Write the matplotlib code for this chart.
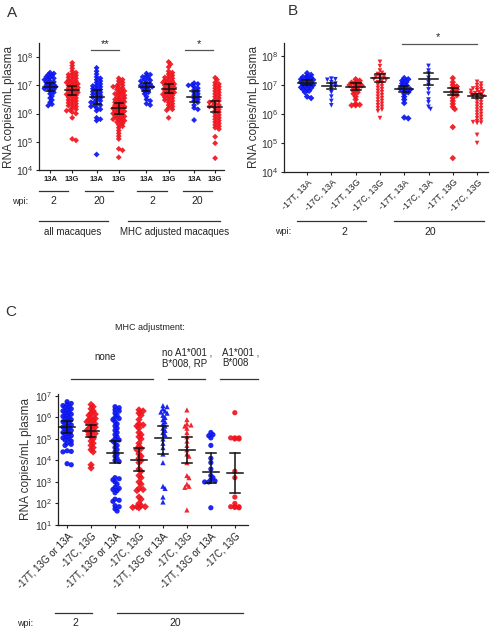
import numpy as np
import matplotlib
matplotlib.use("Agg")
import matplotlib.pyplot as plt
from matplotlib.lines import Line2D

plt.rcParams['font.family'] = ['Liberation Sans', 'DejaVu Sans']
plt.rcParams['mathtext.fontset'] = 'custom'
plt.rcParams['mathtext.rm'] = 'Liberation Sans'
plt.rcParams['mathtext.it'] = 'Liberation Sans'
plt.rcParams['mathtext.bf'] = 'Liberation Sans:bold'

W, H = 493, 633
BLUE = '#0a14f0'
RED = '#f0141e'

# ---------------- data (log10 RNA copies/mL plasma) ----------------
a_labels = ['13A', '13G', '13A', '13G', '13A', '13G', '13A', '13G']
a_values = [
    [7.45,7.42,7.38,7.35,7.3,7.28,7.25,7.22,7.2,7.15,7.12,7.1,7.05,7.02,7.0,6.98,6.95,6.92,6.9,6.88,6.85,6.8,6.75,6.7,6.62,6.55,6.48,6.4,6.33,6.28],
    [7.8,7.7,7.6,7.5,7.45,7.4,7.38,7.35,7.3,7.28,7.25,7.2,7.18,7.15,7.12,7.1,7.08,7.05,7.02,7.0,6.98,6.95,6.92,6.9,6.88,6.85,6.82,6.8,6.78,6.75,6.72,6.7,6.68,6.65,6.6,6.58,6.55,6.5,6.48,6.45,6.4,6.38,6.35,6.3,6.28,6.25,6.2,6.15,6.12,6.1,6.05,6.0,5.85,5.1,5.05],
    [7.62,7.5,7.4,7.3,7.25,7.2,7.15,7.1,7.05,7.0,6.98,6.95,6.9,6.88,6.85,6.8,6.78,6.75,6.7,6.68,6.65,6.6,6.58,6.55,6.5,6.45,6.42,6.4,6.35,6.3,6.28,6.25,6.2,6.15,6.1,5.85,5.8,5.75,4.55],
    [7.25,7.2,7.15,7.1,7.05,7.0,6.98,6.95,6.92,6.9,6.85,6.82,6.8,6.75,6.72,6.7,6.68,6.65,6.6,6.58,6.55,6.52,6.5,6.48,6.45,6.42,6.4,6.38,6.35,6.32,6.3,6.28,6.25,6.22,6.2,6.18,6.15,6.12,6.1,6.08,6.05,6.02,6.0,5.98,5.95,5.92,5.9,5.88,5.85,5.82,5.8,5.78,5.75,5.72,5.7,5.65,5.6,5.55,5.5,5.4,5.3,5.2,5.1,4.75,4.7,4.45],
    [7.42,7.38,7.33,7.3,7.25,7.2,7.18,7.15,7.1,7.05,7.02,7.0,6.98,6.95,6.92,6.9,6.85,6.8,6.75,6.7,6.6,6.5,6.45,6.35,6.3],
    [7.83,7.75,7.65,7.5,7.45,7.4,7.35,7.3,7.28,7.25,7.2,7.18,7.15,7.12,7.1,7.08,7.05,7.02,7.0,6.98,6.95,6.92,6.9,6.88,6.85,6.82,6.8,6.78,6.75,6.72,6.7,6.68,6.65,6.6,6.58,6.55,6.5,6.48,6.45,6.4,6.35,6.3,6.25,6.2,6.15,6.12,5.85],
    [7.08,7.05,7.02,7.0,6.95,6.9,6.85,6.8,6.75,6.7,6.65,6.6,6.55,6.5,6.45,6.4,6.3,6.2,6.15,5.77],
    [7.27,7.2,7.1,7.05,7.0,6.95,6.9,6.85,6.8,6.75,6.7,6.65,6.6,6.55,6.5,6.45,6.42,6.4,6.35,6.3,6.28,6.25,6.2,6.15,6.1,6.05,6.0,5.95,5.9,5.85,5.8,5.75,5.7,5.65,5.6,5.55,5.5,5.45,5.18,4.95,4.42],
]
a_means = [6.94, 6.82, 6.6, 6.18, 6.95, 6.88, 6.6, 6.25]
a_sem = [0.15, 0.15, 0.25, 0.2, 0.15, 0.15, 0.2, 0.18]
a_colors = [BLUE, RED] * 4

b_labels = ['-17T, 13A', '-17C, 13A', '-17T, 13G', '-17C, 13G'] * 2
b_values = [
    [7.41,7.35,7.3,7.28,7.25,7.22,7.2,7.18,7.15,7.12,7.1,7.08,7.05,7.02,7.0,6.98,6.95,6.92,6.9,6.88,6.85,6.8,6.75,6.6,6.55],
    [7.22,7.2,7.18,7.1,7.05,7.0,6.95,6.85,6.75,6.6,6.45,6.3],
    [7.2,7.15,7.1,7.08,7.05,7.02,7.0,6.98,6.95,6.9,6.85,6.8,6.75,6.7,6.6,6.5,6.35,6.32,6.3,6.3],
    [7.8,7.65,7.5,7.42,7.38,7.35,7.3,7.28,7.25,7.22,7.2,7.18,7.15,7.1,7.05,7.0,6.95,6.9,6.85,6.8,6.75,6.7,6.65,6.6,6.55,6.5,6.45,6.4,6.35,6.3,6.25,6.2,6.15,6.1,5.86],
    [7.24,7.2,7.15,7.1,7.05,7.0,6.95,6.9,6.88,6.85,6.8,6.75,6.7,6.6,6.5,6.38,5.88,5.85],
    [7.66,7.5,7.4,7.25,7.1,7.0,6.85,6.7,6.5,6.4,6.25,6.17],
    [7.24,7.1,7.0,6.95,6.9,6.85,6.8,6.75,6.7,6.65,6.55,6.45,6.35,6.25,6.17,5.55,4.48],
    [7.11,7.05,7.0,6.95,6.9,6.88,6.85,6.82,6.8,6.78,6.75,6.72,6.7,6.68,6.65,6.62,6.6,6.55,6.5,6.45,6.4,6.35,6.3,6.25,6.2,6.15,6.1,6.05,6.0,5.95,5.9,5.85,5.8,5.75,5.72,5.7,5.69,5.28,5.0],
]
b_means = [7.08, 6.98, 6.94, 7.24, 6.86, 7.2, 6.77, 6.62]
b_sem = [0.08, 0.1, 0.12, 0.14, 0.1, 0.2, 0.12, 0.08]
b_colors = [BLUE, BLUE, RED, RED] * 2
b_markers = ['D', 'v', 'D', 'v'] * 2

c_labels = ['-17T, 13G or 13A', '-17C, 13G'] * 4
c_values = [
    [6.73,6.65,6.6,6.55,6.5,6.45,6.4,6.35,6.3,6.25,6.2,6.15,6.1,6.05,6.0,5.95,5.9,5.85,5.8,5.75,5.7,5.65,5.6,5.55,5.5,5.45,5.4,5.35,5.3,5.25,5.2,5.15,5.1,5.05,5.0,4.95,4.9,4.8,4.75,4.7,4.45,4.42,4.4,3.85,3.8],
    [6.6,6.5,6.4,6.3,6.2,6.15,6.1,6.0,5.95,5.9,5.85,5.8,5.75,5.7,5.6,5.55,5.5,5.45,5.4,5.3,5.25,5.2,5.1,5.0,4.9,4.8,4.7,4.6,4.5,4.4,3.8,3.65],
    [6.5,6.45,6.35,6.3,6.2,6.1,6.0,5.95,5.9,5.8,5.7,5.6,5.5,5.4,5.3,5.2,5.1,5.0,4.95,4.9,4.8,4.7,4.6,4.5,4.4,4.3,4.2,4.1,4.0,3.95,3.2,3.15,3.1,3.0,2.9,2.75,2.7,2.65,2.6,2.5,2.2,2.15,2.1,1.9,1.85,1.75,1.65],
    [6.35,6.3,6.2,6.1,5.9,5.7,5.65,5.6,5.5,5.3,5.2,5.1,5.0,4.8,4.65,4.55,4.5,4.3,4.2,4.1,4.0,3.9,3.6,3.5,3.3,3.2,3.0,2.9,2.7,2.65,2.6,2.3,2.2,2.0,1.9,1.85,1.85,1.82,1.8],
    [6.55,6.5,6.4,6.3,6.25,6.2,6.1,6.0,5.9,5.8,5.7,5.6,5.5,5.4,5.3,5.2,5.0,4.8,4.6,4.3,3.9,2.8,2.7,2.3,2.07],
    [6.35,5.9,5.7,5.65,5.6,5.5,5.3,5.1,4.9,4.7,4.5,4.3,4.2,3.9,3.3,3.2,2.9,2.8,2.75,1.7],
    [5.3,5.2,5.15,5.05,4.7,4.1,3.9,3.6,3.3,3.2,3.1,3.05,3.0,3.0,1.8],
    [6.22,5.05,5.05,5.0,5.0,5.05,3.5,3.2,2.3,2.0,1.85,1.85,1.8,1.82,1.85],
]
c_means = [5.57, 5.39, 4.36, 4.02, 5.05, 4.49, 3.48, 3.42]
c_low = [5.3, 5.1, 3.9, 3.5, 4.3, 3.9, 2.95, 2.5]
c_high = [5.85, 5.65, 4.9, 4.6, 5.6, 5.1, 4.35, 4.35]
c_colors = [BLUE, RED] * 4
c_markers = ['o', 'D', 'o', 'D', '^', '^', 'o', 'o']

# ---------------- helpers ----------------
fig = plt.figure(figsize=(W / 100, H / 100), dpi=100)


def fx(x):
    return x / W


def fy(y):
    return 1 - y / H


def axes_px(left, top, right, bottom):
    return fig.add_axes([fx(left), fy(bottom), (right - left) / W, (bottom - top) / H])


def hline(x0, x1, y, color='#333333', lw=0.9):
    fig.add_artist(Line2D([fx(x0), fx(x1)], [fy(y), fy(y)], color=color, lw=lw,
                          transform=fig.transFigure))


def ftext(x, y, s, **kw):
    kw.setdefault('ha', 'center')
    kw.setdefault('va', 'center')
    kw.setdefault('fontsize', 7)
    kw.setdefault('color', '#222222')
    fig.text(fx(x), fy(y), s, **kw)


def swarm(ax, xc, vals, d_px, overlap=0.6, maxhalf=6.0):
    """Beeswarm x offsets (in data units) computed from the values."""
    disp = ax.transData.transform(np.column_stack([np.full(len(vals), xc), 10.0 ** np.asarray(vals)]))
    ys = disp[:, 1]
    order = np.argsort(-ys)
    placed = []
    offs = np.zeros(len(vals))
    step = d_px * 0.45
    cands = [0.0]
    k = 1
    while k * step <= maxhalf:
        cands += [k * step, -k * step]
        k += 1
    for i in order:
        best, bestc = None, None
        for c in cands:
            n = sum(1 for (px, py) in placed if (px - c) ** 2 + (py - ys[i]) ** 2 < (d_px * overlap) ** 2)
            if n == 0:
                best = c
                break
            if bestc is None or n < bestc:
                bestc, best = n, c
        offs[i] = best
        placed.append((best, ys[i]))
    bb = ax.get_window_extent()
    x0, x1 = ax.get_xlim()
    return offs * (x1 - x0) / bb.width


def style_axis(ax, ymin, ymax, dec):
    ax.set_yscale('log')
    ax.set_ylim(10.0 ** ymin, 10.0 ** ymax)
    for s in ['top', 'right']:
        ax.spines[s].set_visible(False)
    for s in ['left', 'bottom']:
        ax.spines[s].set_linewidth(0.9)
        ax.spines[s].set_color('#222222')
    ax.set_yticks([10.0 ** d for d in dec])
    ax.set_yticklabels([r'$10^{%d}$' % d for d in dec], fontsize=7.5)
    ax.yaxis.set_minor_locator(matplotlib.ticker.NullLocator())
    ax.tick_params(axis='both', length=2.5, width=0.8, direction='out', pad=1.5, colors='#222222')
    ax.tick_params(axis='y', labelcolor='#333333')


def draw_group(ax, x, vals, color, marker, size, mean, lo, hi, mean_w, cap_w, d_px, maxhalf):
    offs = swarm(ax, x, vals, d_px, maxhalf=maxhalf)
    ax.scatter(x + offs, 10.0 ** np.asarray(vals), s=size, marker=marker, color=color,
               edgecolors='none', zorder=2, alpha=0.92)
    ax.plot([x - mean_w, x + mean_w], [10 ** mean] * 2, color='#111111', lw=1.1, zorder=3)
    ax.plot([x, x], [10 ** lo, 10 ** hi], color='#111111', lw=1.1, zorder=3)
    for v in (lo, hi):
        ax.plot([x - cap_w, x + cap_w], [10 ** v] * 2, color='#111111', lw=1.1, zorder=3)


# ---------------- Panel A ----------------
axA = axes_px(39, 43, 224, 170)
style_axis(axA, 4, 8.5, [4, 5, 6, 7, 8])
a_pos = [1, 2, 3.1, 4.1, 5.35, 6.35, 7.5, 8.45]
axA.set_xlim(0.5, 8.85)
axA.set_xticks(a_pos)
axA.set_xticklabels(a_labels, fontsize=5.5, fontweight='bold')
axA.set_ylabel('RNA copies/mL plasma', fontsize=8.5, labelpad=1, color='#333333')
for i in range(8):
    draw_group(axA, a_pos[i], a_values[i], a_colors[i], 'D', 9, a_means[i],
               a_means[i] - a_sem[i], a_means[i] + a_sem[i], 0.32, 0.18, 4.2, 6.0)

# ---------------- Panel B ----------------
axB = axes_px(284, 43, 488, 172)
style_axis(axB, 4, 8.45, [4, 5, 6, 7, 8])
axB.set_xlim(0.05, 8.45)
axB.set_xticks(range(1, 9))
axB.set_xticklabels(b_labels, fontsize=6.5, rotation=45, ha='right', rotation_mode='anchor')
axB.set_ylabel('RNA copies/mL plasma', fontsize=8.5, labelpad=1, color='#333333')
for i in range(8):
    draw_group(axB, i + 1, b_values[i], b_colors[i], b_markers[i], 11, b_means[i],
               b_means[i] - b_sem[i], b_means[i] + b_sem[i], 0.38, 0.2, 4.5, 7.5)

# ---------------- Panel C ----------------
axC = axes_px(58, 394, 248, 525)
style_axis(axC, 1, 7.09, [1, 2, 3, 4, 5, 6, 7])
axC.set_xlim(0.62, 8.55)
axC.set_xticks(range(1, 9))
axC.set_xticklabels(c_labels, fontsize=7, rotation=45, ha='right', rotation_mode='anchor')
axC.set_ylabel('RNA copies/mL plasma', fontsize=8.5, labelpad=2, color='#333333')
for i in range(8):
    draw_group(axC, i + 1, c_values[i], c_colors[i], c_markers[i], 14, c_means[i],
               c_low[i], c_high[i], 0.33, 0.22, 4.6, 7.0)

# ---------------- annotations ----------------
ftext(12, 13, 'A', fontsize=11, color='#333333')
ftext(293, 11, 'B', fontsize=11, color='#333333')
ftext(11, 312, 'C', fontsize=11, color='#333333')

# Panel A significance
hline(91, 119, 50, color='#555555')
ftext(105, 44, '**', fontsize=8)
hline(185, 213, 50, color='#555555')
ftext(199, 44, '*', fontsize=8)

# Panel A groupings
for (x0, x1, lab) in [(39, 68, '2'), (85, 113, '20'), (137, 167, '2'), (183, 212, '20')]:
    hline(x0, x1, 191)
    ftext((x0 + x1) / 2, 201, lab, fontsize=7.5)
ftext(20, 201, 'wpi:', fontsize=6.5)
hline(39, 108, 221)
hline(128, 220, 221)
ftext(73, 232, 'all macaques', fontsize=7)
ftext(175, 232, 'MHC adjusted macaques', fontsize=7)

# Panel B significance and grouping
hline(402, 477, 44, color='#555555')
ftext(438, 37, '*', fontsize=8)
hline(297, 366, 221)
hline(394, 484, 221)
ftext(283, 232, 'wpi:', fontsize=6.5)
ftext(344, 232, '2', fontsize=7.5)
ftext(430, 232, '20', fontsize=7.5)

# Panel C header
ftext(150, 328, 'MHC adjustment:', fontsize=6.5)
ftext(105, 357, 'none', fontsize=7)
ftext(162, 358, 'no A1*001 ,\nB*008, RP', fontsize=7, ha='left', linespacing=1.1)
ftext(222, 358, 'A1*001 ,\nB*008', fontsize=7, ha='left', linespacing=1.1)
hline(71, 153, 379)
hline(168, 205, 379)
hline(220, 258, 379)

# Panel C wpi
hline(55, 92, 613)
hline(117, 243, 613)
ftext(25, 623, 'wpi:', fontsize=6.5)
ftext(75, 623, '2', fontsize=7.5)
ftext(175, 623, '20', fontsize=7.5)

fig.savefig('out.png', dpi=100)
